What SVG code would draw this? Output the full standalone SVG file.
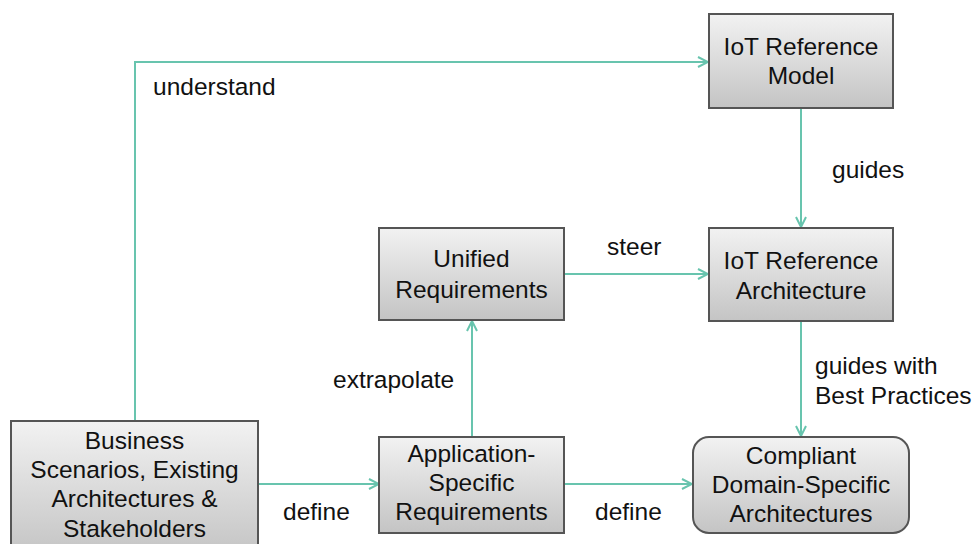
<svg xmlns="http://www.w3.org/2000/svg" width="978" height="544" viewBox="0 0 978 544">
<defs>
<linearGradient id="g" x1="0" y1="0" x2="0" y2="1">
<stop offset="0" stop-color="#f2f2f2"/>
<stop offset="1" stop-color="#c4c4c4"/>
</linearGradient>
<marker id="a" viewBox="0 0 12 12" refX="11" refY="6" markerWidth="12" markerHeight="12" markerUnits="userSpaceOnUse" orient="auto">
<path d="M1,1 L11,6 L1,11" fill="none" stroke="#68c4ae" stroke-width="2"/>
</marker>
</defs>
<style>
.box{fill:url(#g);stroke:#555;stroke-width:2}
.t{font-family:"Liberation Sans",Arial,sans-serif;font-size:24.5px;fill:#111;text-anchor:middle}
.l{font-family:"Liberation Sans",Arial,sans-serif;font-size:24.5px;fill:#111}
.c{fill:none;stroke:#68c4ae;stroke-width:2}
</style>
<rect width="978" height="544" fill="#fff"/>
<g id="connectors">
<path class="c" d="M135,421 V62 H708" marker-end="url(#a)"/>
<path class="c" d="M801,108 V227" marker-end="url(#a)"/>
<path class="c" d="M564,274 H708" marker-end="url(#a)"/>
<path class="c" d="M472,437 V321" marker-end="url(#a)"/>
<path class="c" d="M801,321 V436" marker-end="url(#a)"/>
<path class="c" d="M258,484 H379" marker-end="url(#a)"/>
<path class="c" d="M564,484 H692" marker-end="url(#a)"/>
<text class="l" x="153" y="95">understand</text>
<text class="l" x="832" y="178">guides</text>
<text class="l" x="607" y="255">steer</text>
<text class="l" x="333" y="388">extrapolate</text>
<text class="l" x="815" y="374">guides with</text>
<text class="l" x="815" y="404">Best Practices</text>
<text class="l" x="283" y="520">define</text>
<text class="l" x="595" y="520">define</text>
</g>
<g id="iot-reference-model">
<rect class="box" x="709" y="14" width="184" height="94"/>
<text class="t" x="801" y="55">IoT Reference</text>
<text class="t" x="801" y="84">Model</text>
</g>
<g id="iot-reference-architecture">
<rect class="box" x="709" y="228" width="184" height="93"/>
<text class="t" x="801" y="269">IoT Reference</text>
<text class="t" x="801" y="299">Architecture</text>
</g>
<g id="unified-requirements">
<rect class="box" x="379" y="228" width="185" height="92"/>
<text class="t" x="471.5" y="267">Unified</text>
<text class="t" x="471.5" y="298">Requirements</text>
</g>
<g id="application-specific-requirements">
<rect class="box" x="379" y="437" width="185" height="96"/>
<text class="t" x="471.5" y="462">Application-</text>
<text class="t" x="471.5" y="491">Specific</text>
<text class="t" x="471.5" y="520">Requirements</text>
</g>
<g id="compliant-domain-specific-architectures">
<rect class="box" x="693" y="437" width="216" height="96" rx="16" ry="16"/>
<text class="t" x="801" y="464">Compliant</text>
<text class="t" x="801" y="493">Domain-Specific</text>
<text class="t" x="801" y="522">Architectures</text>
</g>
<g id="business-scenarios">
<rect class="box" x="11" y="421" width="247" height="135"/>
<text class="t" x="134.5" y="449">Business</text>
<text class="t" x="134.5" y="478">Scenarios, Existing</text>
<text class="t" x="134.5" y="507">Architectures &amp;</text>
<text class="t" x="134.5" y="537">Stakeholders</text>
</g>
</svg>
